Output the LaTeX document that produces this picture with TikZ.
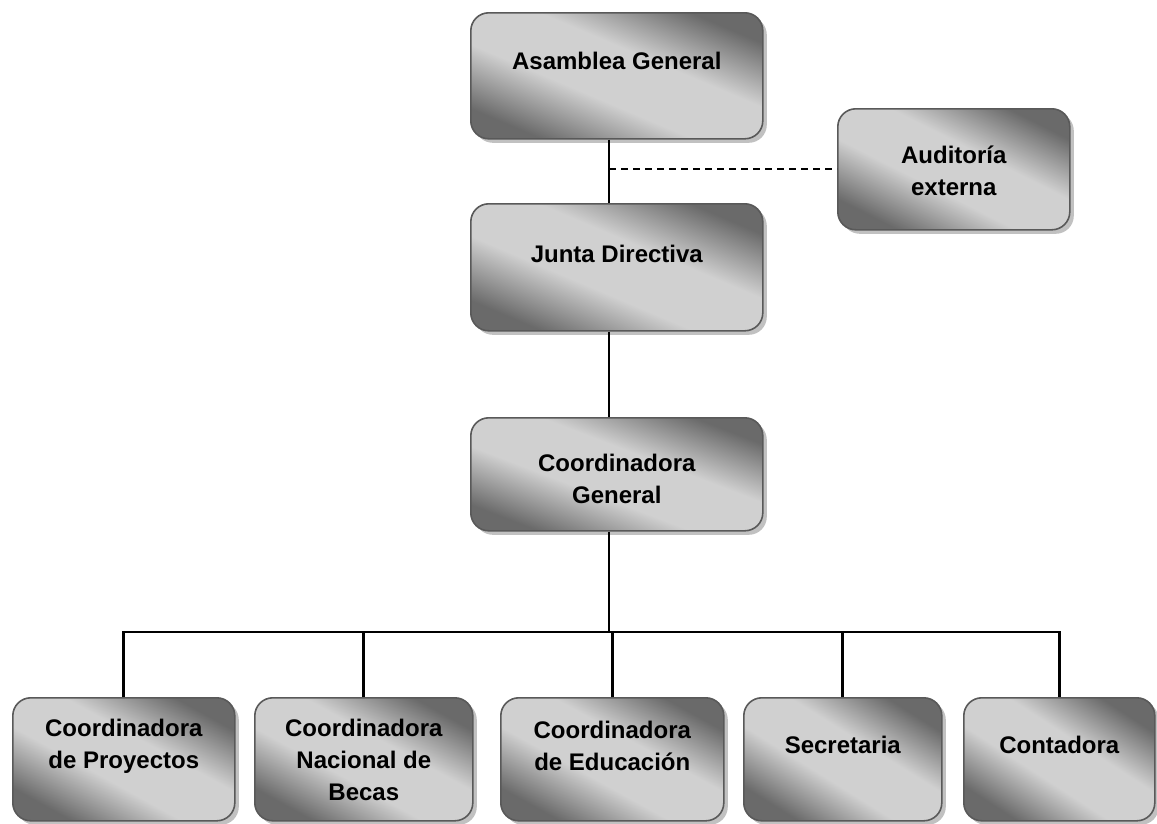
\documentclass[tikz,border=0pt]{standalone}
\usepackage{fontspec}
\setmainfont{Liberation Sans}
\usetikzlibrary{shadows}
\definecolor{shadedark}{HTML}{6A6A6A}
\definecolor{shadelight}{HTML}{D0D0D0}
\pgfdeclareverticalshading{orgshade}{100bp}{color(0bp)=(shadedark); color(25bp)=(shadedark);
  color(42bp)=(shadelight); color(58bp)=(shadelight); color(75bp)=(shadedark); color(100bp)=(shadedark)}

\begin{document}
\begin{tikzpicture}[
      x=1pt, y=-1pt,
      org/.style={rectangle, rounded corners=18pt, draw=black!65, line width=1.6pt,
        shading=orgshade, shading angle=#1,
        drop shadow={shadow xshift=4pt, shadow yshift=-4pt, fill=black!35, opacity=0.7},
        anchor=north west, inner sep=0pt},
      org/.default=-23,
      txt/.style={font=\bfseries\fontsize{24}{32}\selectfont, align=center},
      link/.style={line width=2.8pt, black},
      ext/.style={line width=2pt, black, dash pattern=on 7pt off 5pt},
    ]
      \useasboundingbox (0,0) rectangle (1157,823);
      % upper chain
      \node[org, minimum width=292pt, minimum height=126pt] (ag) at (470,12)
        [label={[txt, yshift=15pt]center:{Asamblea General}}] {};
      \node[org=-27, minimum width=232pt, minimum height=121pt] (au) at (837,108)
        [label={[txt, yshift=-2pt]center:{Auditoría\\externa}}] {};
      \node[org, minimum width=292pt, minimum height=127pt] (jd) at (470,203)
        [label={[txt, yshift=13pt]center:{Junta Directiva}}] {};
      \node[org=-21, minimum width=292pt, minimum height=113pt] (cg) at (470,417)
        [label={[txt, yshift=-5pt]center:{Coordinadora\\General}}] {};
      % bottom row
      \node[org=-29, minimum width=222pt, minimum height=123pt] (b1) at (12,697)
        [label={[txt, yshift=13pt]center:{Coordinadora\\de Proyectos}}] {};
      \node[org=-29, minimum width=218pt, minimum height=123pt] (b2) at (254,697)
        [label={[txt, yshift=-1pt]center:{Coordinadora\\Nacional de\\Becas}}] {};
      \node[org=-29, minimum width=223pt, minimum height=123pt] (b3) at (500,697)
        [label={[txt, yshift=13pt]center:{Coordinadora\\de Educación}}] {};
      \node[org=-32, minimum width=198pt, minimum height=123pt] (b4) at (743,697)
        [label={[txt, yshift=14pt]center:{Secretaria}}] {};
      \node[org=-33, minimum width=191pt, minimum height=123pt] (b5) at (963,697)
        [label={[txt, yshift=14pt]center:{Contadora}}] {};
      \coordinate (spine) at (609,0);
      \coordinate (bus) at (0,632);
      \draw[link] (ag.south -| spine) -- (jd.north -| spine);
      \draw[link] (jd.south -| spine) -- (cg.north -| spine);
      \draw[link] (cg.south -| spine) -- (bus -| spine);
      \draw[ext] (spine |- au.west) -- (au.west);
      \draw[link] (b1.north) -- (b1.north |- bus) -- (b5.north |- bus) -- (b5.north);
      \foreach \k in {b2,b3,b4}
        \draw[link] (\k.north) -- (\k.north |- bus);
    \end{tikzpicture}
\end{document}
